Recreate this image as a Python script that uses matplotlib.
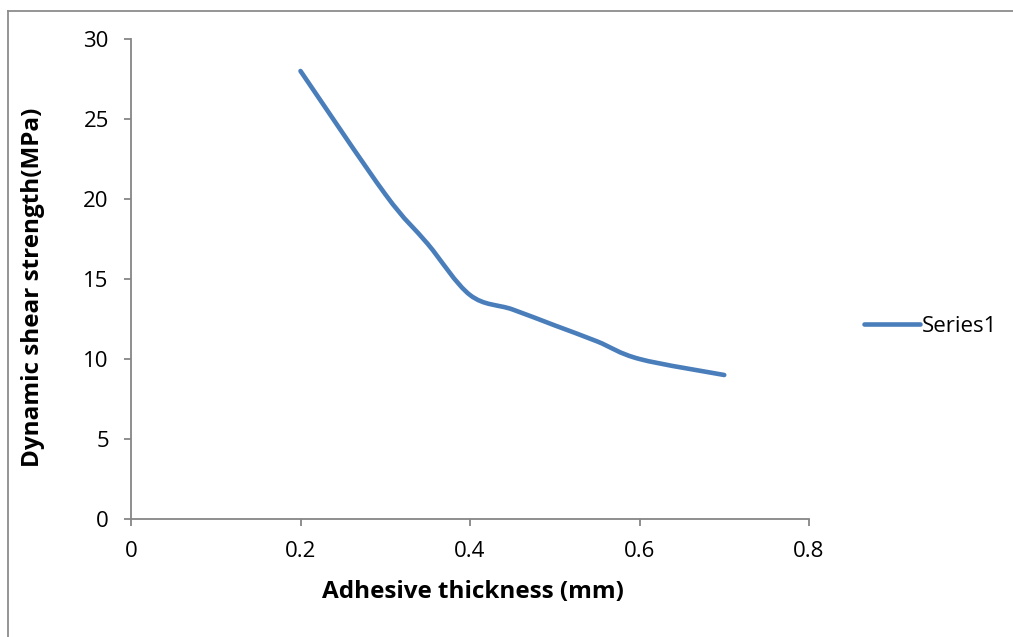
import numpy as np
import matplotlib
matplotlib.use('Agg')
import matplotlib.pyplot as plt
from matplotlib.path import Path
from matplotlib.patches import PathPatch
from matplotlib.lines import Line2D

# data
thickness = [0.2, 0.3, 0.35, 0.4, 0.45, 0.5, 0.55, 0.6, 0.7]
strength = [28.0, 20.3, 17.2, 14.0, 13.1, 12.1, 11.1, 10.0, 9.0]
series_name = 'Series1'
x_ticks = [0, 0.2, 0.4, 0.6, 0.8]
x_tick_labels = ['0', '0.2', '0.4', '0.6', '0.8']
y_ticks = [0, 5, 10, 15, 20, 25, 30]

line_color = '#4A7EBB'
axis_color = '#868686'

plt.rcParams['font.family'] = ['Open Sans', 'DejaVu Sans']


def smooth_path(xs, ys):
  # excel-like smoothed line: catmull-rom segments as cubic beziers
  pts = np.column_stack([xs, ys])
  verts = [pts[0]]
  codes = [Path.MOVETO]
  n = len(pts)
  for i in range(n - 1):
    p0 = pts[i - 1] if i > 0 else pts[i]
    p1 = pts[i]
    p2 = pts[i + 1]
    p3 = pts[i + 2] if i + 2 < n else pts[i + 1]
    c1 = p1 + (p2 - p0) / 6.0
    c2 = p2 - (p3 - p1) / 6.0
    verts += [c1, c2, p2]
    codes += [Path.CURVE4] * 3
  return Path(verts, codes)


fig = plt.figure(figsize=(10.13, 6.37), dpi=100)
ax = fig.add_axes([131 / 1013, 1 - 519 / 637, 678 / 1013, 480 / 637])

patch = PathPatch(smooth_path(thickness, strength), facecolor='none',
                  edgecolor=line_color, lw=3.3, capstyle='round',
                  joinstyle='round')
ax.add_patch(patch)

ax.set_xlim(0, 0.8)
ax.set_ylim(0, 30)
ax.set_xticks(x_ticks)
ax.set_xticklabels(x_tick_labels)
ax.set_yticks(y_ticks)

for s in ['top', 'right']:
  ax.spines[s].set_visible(False)
for s in ['left', 'bottom']:
  ax.spines[s].set_color(axis_color)
  ax.spines[s].set_linewidth(1.3)
ax.tick_params(axis='both', colors=axis_color, length=5, width=1.3,
               labelcolor='black', labelsize=16)
ax.tick_params(axis='x', pad=11)
ax.tick_params(axis='y', pad=11)

ax.set_xlabel('Adhesive thickness (mm)', fontsize=17.5, fontweight='bold')
ax.set_ylabel('Dynamic shear strength(MPa)', fontsize=17.5, fontweight='bold')
ax.xaxis.set_label_coords(0.505, -0.128)
ax.yaxis.set_label_coords(-0.127, 0.483)

handle = Line2D([], [], color=line_color, lw=3.3, solid_capstyle='round')
ax.legend([handle], [series_name], loc='center left',
          bbox_to_anchor=(1.068, 0.402), frameon=False, fontsize=16,
          handlelength=2.5, handletextpad=0.1, borderaxespad=0)

# chart frame, only top and left edges fall inside the picture
fig.add_artist(Line2D([8 / 1013, 8 / 1013], [0, 1 - 10.5 / 637],
                      transform=fig.transFigure, color='#8c8c8c', lw=1.3))
fig.add_artist(Line2D([8 / 1013, 1], [1 - 10.5 / 637, 1 - 10.5 / 637],
                      transform=fig.transFigure, color='#8c8c8c', lw=1.3))

plt.savefig('out.png', dpi=100)
